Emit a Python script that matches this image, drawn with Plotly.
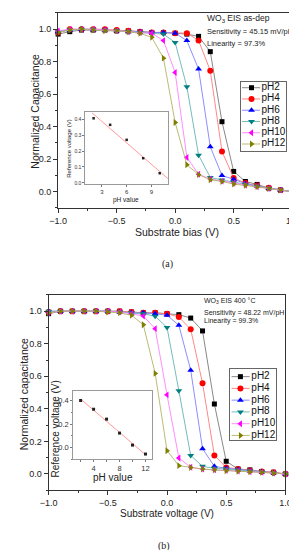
import numpy as np
import plotly.graph_objects as go

W, H = 297, 550

# ---------------- data ----------------
bias = [-1.0, -0.9, -0.8, -0.7, -0.6, -0.5, -0.4, -0.3, -0.2, -0.1, 0.0,
        0.1, 0.2, 0.3, 0.4, 0.5, 0.6, 0.7, 0.8, 0.9, 1.0]
labels = ["pH2", "pH4", "pH6", "pH8", "pH10", "pH12"]

# panel (a): WO3 EIS as-dep
cap_a_pH2 = [0.97, 0.985, 0.995, 0.995, 0.995, 0.99, 0.99, 0.985, 0.98, 0.98, 0.975,
             0.97, 0.956, 0.862, 0.431, 0.125, 0.063, 0.045, 0.022, 0.01, 0.0]
cap_a_pH4 = [0.98, 1.0, 1.0, 1.0, 1.0, 0.995, 0.99, 0.985, 0.98, 0.98, 0.976,
             0.976, 0.931, 0.745, 0.248, 0.084, 0.053, 0.038, 0.025, 0.01, 0.0]
cap_a_pH6 = [0.985, 0.995, 1.0, 0.995, 0.995, 0.99, 0.985, 0.985, 0.98, 0.98, 0.976,
             0.93, 0.755, 0.277, 0.10, 0.076, 0.05, 0.035, 0.022, 0.01, 0.0]
cap_a_pH8 = [0.985, 0.995, 1.0, 1.0, 0.995, 0.99, 0.985, 0.98, 0.975, 0.97, 0.919,
             0.646, 0.225, 0.088, 0.072, 0.058, 0.045, 0.033, 0.02, 0.01, 0.0]
cap_a_pH10 = [0.99, 1.0, 1.0, 1.0, 0.995, 0.99, 0.985, 0.98, 0.975, 0.93, 0.734,
              0.211, 0.108, 0.078, 0.065, 0.052, 0.04, 0.03, 0.02, 0.01, 0.0]
cap_a_pH12 = [0.98, 0.995, 1.0, 0.995, 0.99, 0.99, 0.985, 0.975, 0.95, 0.822, 0.426,
              0.166, 0.105, 0.074, 0.063, 0.047, 0.04, 0.03, 0.02, 0.01, 0.0]

# panel (b): WO3 EIS 400 C
cap_b_pH2 = [0.985, 1.0, 1.0, 1.0, 1.0, 1.0, 1.0, 0.995, 0.99, 0.99, 0.985,
             0.979, 0.958, 0.879, 0.43, 0.078, 0.03, 0.025, 0.015, 0.01, 0.0]
cap_b_pH4 = [0.995, 1.0, 1.0, 1.0, 1.0, 1.0, 1.0, 0.995, 0.99, 0.99, 0.985,
             0.964, 0.889, 0.557, 0.114, 0.04, 0.03, 0.022, 0.015, 0.01, 0.0]
cap_b_pH6 = [1.0, 1.0, 1.0, 1.0, 1.0, 1.0, 0.995, 0.99, 0.99, 0.985, 0.975,
             0.914, 0.638, 0.155, 0.047, 0.035, 0.028, 0.02, 0.013, 0.008, 0.0]
cap_b_pH8 = [1.0, 1.0, 1.0, 1.0, 1.0, 1.0, 0.995, 0.99, 0.985, 0.969, 0.9,
             0.512, 0.114, 0.047, 0.035, 0.03, 0.025, 0.018, 0.012, 0.006, 0.0]
cap_b_pH10 = [0.99, 1.0, 1.0, 1.0, 1.0, 1.0, 0.995, 0.985, 0.97, 0.893, 0.486,
              0.098, 0.041, 0.03, 0.025, 0.022, 0.018, 0.014, 0.01, 0.005, 0.0]
cap_b_pH12 = [0.99, 1.0, 1.0, 1.0, 1.0, 0.995, 0.99, 0.975, 0.917, 0.618, 0.143,
              0.051, 0.04, 0.03, 0.025, 0.02, 0.017, 0.013, 0.01, 0.005, 0.0]

# insets: reference voltage vs pH
ph_a = [2, 4, 6, 8, 10]
vref_a = [0.405, 0.364, 0.27, 0.155, 0.061]
ph_b = [2, 4, 6, 8, 10, 12]
vref_b = [0.403, 0.328, 0.243, 0.123, 0.02, -0.057]

series_a = [cap_a_pH2, cap_a_pH4, cap_a_pH6, cap_a_pH8, cap_a_pH10, cap_a_pH12]
series_b = [cap_b_pH2, cap_b_pH4, cap_b_pH6, cap_b_pH8, cap_b_pH10, cap_b_pH12]

# ---------------- style ----------------
colors = ["#000000", "#ff0000", "#0000ff", "#008080", "#ff00ff", "#808000"]
line_colors = ["#7a7a7a", "#ff7a7a", "#8080ff", "#66b3b3", "#ff80ff", "#b3b366"]
symbols = ["square", "circle", "triangle-up", "triangle-down", "triangle-left", "triangle-right"]
msizes = [5, 6, 6, 6, 6, 6]
FONT = "Liberation Sans"


def xd(x0, x1):
    return [x0 / W, x1 / W]


def yd(top, bottom):
    return [1 - bottom / H, 1 - top / H]


def px(x):
    return x / W


def py(y):
    return 1 - y / H


fig = go.Figure()

# main curves
for series, xa, ya in [(series_a, "x", "y"), (series_b, "x4", "y4")]:
    for i, vals in enumerate(series):
        fig.add_trace(go.Scatter(
            x=bias, y=vals, mode="lines+markers", xaxis=xa, yaxis=ya,
            line=dict(color=line_colors[i], width=0.9),
            marker=dict(symbol=symbols[i], size=msizes[i], color=colors[i], line=dict(width=0)),
            cliponaxis=False, showlegend=False, hoverinfo="skip"))

# insets
for ph, vr, xa, ya, x0, x1, msz in [(ph_a, vref_a, "x2", "y2", 1.8, 11.0, 2.5),
                                     (ph_b, vref_b, "x5", "y5", 2.0, 12.0, 3)]:
    k, b = np.polyfit(ph, vr, 1)
    fx = np.array([x0, x1])
    fig.add_trace(go.Scatter(x=fx, y=k * fx + b, mode="lines", xaxis=xa, yaxis=ya,
                             line=dict(color="#ff9a9a", width=1), showlegend=False, hoverinfo="skip"))
    fig.add_trace(go.Scatter(x=ph, y=vr, mode="markers", xaxis=xa, yaxis=ya,
                             marker=dict(symbol="square", size=msz, color="#222222"),
                             showlegend=False, hoverinfo="skip", cliponaxis=False))

# manual legends (drawn on their own small axes)
for xa, ya, y0, dy, lx0, lx1, mx, tx, fs in [("x3", "y3", 6.0, 11.3, 1.0, 20.0, 11.0, 21.5, 10),
                                             ("x6", "y6", 7.3, 11.8, 1.7, 20.7, 11.0, 22.5, 10)]:
    for i, lab in enumerate(labels):
        yy = y0 + i * dy
        fig.add_trace(go.Scatter(x=[lx0, lx1], y=[yy, yy], mode="lines", xaxis=xa, yaxis=ya,
                                 line=dict(color=line_colors[i], width=0.9),
                                 showlegend=False, hoverinfo="skip"))
        fig.add_trace(go.Scatter(x=[mx], y=[yy], mode="markers", xaxis=xa, yaxis=ya,
                                 marker=dict(symbol=symbols[i], size=msizes[i], color=colors[i]),
                                 showlegend=False, hoverinfo="skip", cliponaxis=False))
        fig.add_trace(go.Scatter(x=[tx], y=[yy], mode="text", text=[lab], textposition="middle right",
                                 textfont=dict(family=FONT, size=fs, color="#111111"),
                                 xaxis=xa, yaxis=ya, showlegend=False, hoverinfo="skip",
                                 cliponaxis=False))

main_ax = dict(showline=True, mirror=True, linecolor="#333333", linewidth=1, ticks="outside",
               ticklen=4, tickwidth=1, tickcolor="#333333", showgrid=False, zeroline=False,
               tickfont=dict(family=FONT, size=9, color="#222222"))
inset_ax = dict(showline=True, mirror=True, linecolor="#999999", linewidth=1, ticks="outside",
                ticklen=2, tickwidth=0.8, tickcolor="#777777", showgrid=False, zeroline=False)
leg_ax = dict(showline=True, mirror=True, linecolor="#666666", linewidth=1, ticks="",
              showticklabels=False, showgrid=False, zeroline=False, fixedrange=True)

layout = dict(
    width=W, height=H, margin=dict(l=0, r=0, t=0, b=0),
    paper_bgcolor="white", plot_bgcolor="white", showlegend=False,
    # panel (a) main
    xaxis=dict(main_ax, domain=xd(43.3, 296.0), range=[-1.0, 1.05], anchor="y",
               dtick=0.5, tick0=-1.0, tickformat=".1f",
               minor=dict(ticks="outside", ticklen=2, dtick=0.25, tickcolor="#333333")),
    yaxis=dict(main_ax, domain=yd(5.0, 200.7), range=[-0.1, 1.1], anchor="x",
               dtick=0.2, tick0=0, tickformat=".1f",
               minor=dict(ticks="outside", ticklen=2, dtick=0.1, tickcolor="#333333")),
    # panel (a) inset
    xaxis2=dict(inset_ax, domain=xd(72.0, 159.0), range=[1.0, 11.0], anchor="y2",
                dtick=3, tick0=0, tickfont=dict(family=FONT, size=6, color="#333")),
    yaxis2=dict(inset_ax, domain=yd(104.3, 176.7), range=[-0.007, 0.445], anchor="x2",
                dtick=0.1, tick0=0, tickformat=".1f", tickfont=dict(family=FONT, size=5, color="#333")),
    # panel (a) legend
    xaxis3=dict(leg_ax, domain=xd(236.0, 283.3), range=[0, 47.3], anchor="y3"),
    yaxis3=dict(leg_ax, domain=yd(74.0, 143.3), range=[69.3, 0], anchor="x3"),
    # panel (b) main
    xaxis4=dict(main_ax, domain=xd(33.3, 282.7), range=[-1.0, 1.0], anchor="y4",
                dtick=0.5, tick0=-1.0, tickformat=".1f",
                minor=dict(ticks="outside", ticklen=2, dtick=0.25, tickcolor="#333333")),
    yaxis4=dict(main_ax, domain=yd(288.0, 484.0), range=[-0.1, 1.1], anchor="x4",
                dtick=0.2, tick0=0, tickformat=".1f",
                minor=dict(ticks="outside", ticklen=2, dtick=0.1, tickcolor="#333333")),
    # panel (b) inset
    xaxis5=dict(inset_ax, domain=xd(59.3, 142.0), range=[0.87, 12.98], anchor="y5",
                dtick=4, tick0=0, tickfont=dict(family=FONT, size=7.5, color="#333"),
                minor=dict(ticks="outside", ticklen=1.5, dtick=2, tickcolor="#777777")),
    yaxis5=dict(inset_ax, domain=yd(384.0, 452.7), range=[-0.1, 0.488], anchor="x5",
                dtick=0.2, tick0=0, tickformat=".1f", tickfont=dict(family=FONT, size=7.5, color="#333"),
                minor=dict(ticks="outside", ticklen=1.5, dtick=0.1, tickcolor="#777777")),
    # panel (b) legend
    xaxis6=dict(leg_ax, domain=xd(224.3, 272.7), range=[0, 48.4], anchor="y6"),
    yaxis6=dict(leg_ax, domain=yd(362.7, 433.3), range=[70.6, 0], anchor="x6"),
)


def ann(text, x, y, size, xanchor="center", angle=0, family=FONT, color="#222222"):
    return dict(text=text, x=px(x), y=py(y), xref="paper", yref="paper", showarrow=False,
                xanchor=xanchor, yanchor="middle", textangle=angle,
                font=dict(family=family, size=size, color=color))


annotations = [
    # panel (a)
    ann("Normalized Capacitance", 19, 104, 10.5, angle=-90),
    ann("Substrate bias (V)", 168, 225, 10.5),
    ann("(a)", 159, 257, 10, family="Liberation Serif"),
    ann("WO<sub>3</sub> EIS as-dep", 198, 11, 8.5, xanchor="left"),
    ann("Sensitivity = 45.15 mV/pH", 198, 24, 7.5, xanchor="left"),
    ann("Linearity = 97.3%", 198, 35.7, 7.5, xanchor="left"),
    ann("pH value", 115, 192.7, 6.5),
    ann("Reference voltage (V)", 55, 141, 6, angle=-90),
    # panel (b)
    ann("Normalized capacitance", 7, 388, 10.5, angle=-90),
    ann("Substrate voltage (V)", 158, 507.7, 10),
    ann("(b)", 155, 540, 10, family="Liberation Serif"),
    ann("WO<sub>3</sub> EIS 400 °C", 195, 294.5, 7, xanchor="left"),
    ann("Sensitivity = 48.22 mV/pH", 195, 305.7, 7, xanchor="left"),
    ann("Linearity = 99.3%", 195, 314, 7, xanchor="left"),
    ann("pH value", 101, 471.7, 10),
    ann("Reference voltage (V)", 40, 422, 10, angle=-90),
]
layout["annotations"] = annotations

fig.update_layout(**layout)
fig.write_html("out.html")
